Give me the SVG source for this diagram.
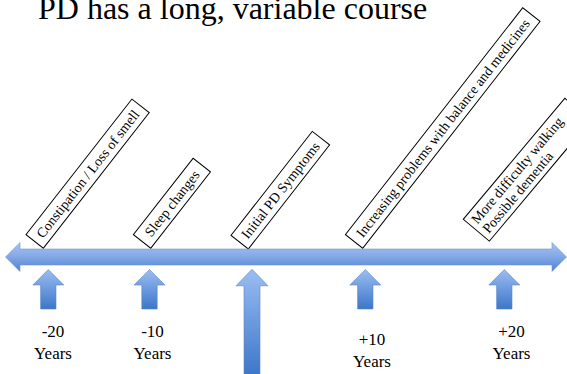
<svg xmlns="http://www.w3.org/2000/svg" width="567" height="374" viewBox="0 0 567 374">
  <style>
    .title { font-family: "Liberation Serif", "Times New Roman", serif; font-size: 32px; fill: #000; }
    .box rect { fill: #fff; stroke: #000; stroke-width: 1; }
    .box text { font-family: "Liberation Serif", "Times New Roman", serif; font-size: 14px; fill: #000; }
    .yr { font-family: "Liberation Serif", "Times New Roman", serif; font-size: 17px; fill: #000; text-anchor: middle; }
    .arrow { fill: url(#upGrad); stroke: #5a88c8; stroke-width: 0.6; }
  </style>
  <defs>
    <linearGradient id="lineGrad" x1="0" y1="0" x2="0" y2="1">
      <stop offset="0" stop-color="#a8c4f0"/>
      <stop offset="0.5" stop-color="#82a8e6"/>
      <stop offset="1" stop-color="#4d80d0"/>
    </linearGradient>
    <linearGradient id="upGrad" x1="0" y1="0" x2="0" y2="1">
      <stop offset="0" stop-color="#9bbdf2"/>
      <stop offset="1" stop-color="#3d76c8"/>
    </linearGradient>
    <path id="smallUp" d="M0,0 L15.5,15.5 L7.7,15.5 L7.7,39.5 L-7.7,39.5 L-7.7,15.5 L-15.5,15.5 Z"/>
  </defs>

  <text class="title" x="38" y="18.5">PD has a long, variable course</text>

  <g id="box-constipation" class="box" transform="translate(26,234.7) rotate(-52)">
    <rect x="0" y="0" width="172" height="22"/>
    <text x="86" y="16" text-anchor="middle">Constipation / Loss of smell</text>
  </g>
  <g id="box-sleep" class="box" transform="translate(133.4,234.7) rotate(-52)">
    <rect x="0" y="0" width="97" height="22"/>
    <text x="48.5" y="16" text-anchor="middle">Sleep changes</text>
  </g>
  <g id="box-initial" class="box" transform="translate(231,235.4) rotate(-52)">
    <rect x="0" y="0" width="132" height="22"/>
    <text x="66" y="16" text-anchor="middle">Initial PD Symptoms</text>
  </g>
  <g id="box-increasing" class="box" transform="translate(345.4,234.7) rotate(-52)">
    <rect x="0" y="0" width="288" height="22"/>
    <text x="144" y="16" text-anchor="middle">Increasing problems with balance and medicines</text>
  </g>
  <g id="box-later" class="box" transform="translate(463.3,219.3) rotate(-50)">
    <rect x="0" y="0" width="158" height="34"/>
    <text x="5" y="14.5">More difficulty walking</text>
    <text x="5" y="29">Possible dementia</text>
  </g>

  <g id="connectors">
    <path id="timeline" d="M5.5,257 L20,242.5 L20,249 L552,249 L552,242.5 L566.5,257 L552,271.5 L552,265 L20,265 L20,271.5 Z" fill="url(#lineGrad)" stroke="#6b95d6" stroke-width="0.6"/>
    <use id="arrow-m20" class="arrow" href="#smallUp" transform="translate(48.3,269.5)"/>
    <use id="arrow-m10" class="arrow" href="#smallUp" transform="translate(149.5,269.5)"/>
    <path id="arrow-0" class="arrow" d="M0,0 L16,16.5 L8,16.5 L8,106 L-8,106 L-8,16.5 L-16,16.5 Z" transform="translate(252,269.3)"/>
    <use id="arrow-p10" class="arrow" href="#smallUp" transform="translate(365.3,269.5)"/>
    <use id="arrow-p20" class="arrow" href="#smallUp" transform="translate(504.3,269.5)"/>
  </g>

  <g id="label-m20"><text class="yr" x="53" y="337">-20</text><text class="yr" x="53" y="359">Years</text></g>
  <g id="label-m10"><text class="yr" x="152.5" y="337">-10</text><text class="yr" x="152.5" y="359">Years</text></g>
  <g id="label-p10"><text class="yr" x="372" y="345">+10</text><text class="yr" x="372" y="367">Years</text></g>
  <g id="label-p20"><text class="yr" x="511.5" y="337">+20</text><text class="yr" x="511.5" y="359">Years</text></g>
</svg>
